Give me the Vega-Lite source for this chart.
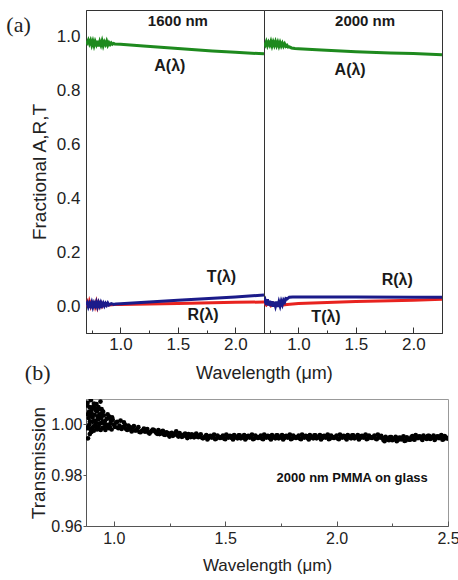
{
  "$schema": "https://vega.github.io/schema/vega-lite/v6.json",
  "background": "white",
  "padding": {"left": 6, "top": 9, "right": 0, "bottom": 4},
  "title": {"text": "(a)", "anchor": "start", "font": "Liberation Serif", "fontSize": 22, "fontWeight": "normal", "baseline": "alphabetic", "dx": -18, "dy": 27, "offset": -17, "color": "#222"},
  "config": {
    "font": "Liberation Sans",
    "view": {"stroke": "#333"},
    "axis": {"grid": false, "labelOverlap": false, "labelColor": "#222", "titleColor": "#222", "domainColor": "#333", "tickColor": "#333", "labelFont": "Liberation Sans", "titleFont": "Liberation Sans", "titleFontWeight": "normal"},
    "title": {"color": "#222", "fontWeight": "normal"}
  },
  "datasets": {
    "a1600": [
      {"s":"R","x":0.70,"y":0.000},{"s":"R","x":0.71,"y":0.012},{"s":"R","x":0.72,"y":-0.004},{"s":"R","x":0.73,"y":0.016},{"s":"R","x":0.74,"y":0.002},{"s":"R","x":0.75,"y":0.020},{"s":"R","x":0.76,"y":-0.002},{"s":"R","x":0.77,"y":0.018},{"s":"R","x":0.78,"y":0.000},{"s":"R","x":0.79,"y":0.015},{"s":"R","x":0.80,"y":-0.003},{"s":"R","x":0.81,"y":0.012},{"s":"R","x":0.82,"y":0.001},{"s":"R","x":0.83,"y":0.010},{"s":"R","x":0.84,"y":0.000},{"s":"R","x":0.85,"y":0.008},{"s":"R","x":0.86,"y":0.002},{"s":"R","x":0.88,"y":0.006},{"s":"R","x":0.90,"y":0.004},{"s":"R","x":0.95,"y":0.006},{"s":"R","x":1.00,"y":0.006},{"s":"R","x":1.50,"y":0.010},{"s":"R","x":2.00,"y":0.014},{"s":"R","x":2.25,"y":0.015},
      {"s":"T","x":0.70,"y":0.004},{"s":"T","x":0.71,"y":0.012},{"s":"T","x":0.72,"y":-0.002},{"s":"T","x":0.73,"y":0.010},{"s":"T","x":0.74,"y":0.000},{"s":"T","x":0.75,"y":0.013},{"s":"T","x":0.76,"y":-0.003},{"s":"T","x":0.77,"y":0.011},{"s":"T","x":0.78,"y":0.001},{"s":"T","x":0.79,"y":0.014},{"s":"T","x":0.80,"y":-0.002},{"s":"T","x":0.81,"y":0.012},{"s":"T","x":0.82,"y":0.000},{"s":"T","x":0.83,"y":0.013},{"s":"T","x":0.84,"y":0.002},{"s":"T","x":0.85,"y":0.011},{"s":"T","x":0.86,"y":0.001},{"s":"T","x":0.87,"y":0.010},{"s":"T","x":0.88,"y":0.003},{"s":"T","x":0.89,"y":0.011},{"s":"T","x":0.90,"y":0.004},{"s":"T","x":0.92,"y":0.009},{"s":"T","x":0.94,"y":0.006},{"s":"T","x":0.96,"y":0.008},{"s":"T","x":1.00,"y":0.009},{"s":"T","x":1.50,"y":0.022},{"s":"T","x":2.00,"y":0.034},{"s":"T","x":2.25,"y":0.041},
      {"s":"A","x":0.70,"y":0.985},{"s":"A","x":0.71,"y":0.978},{"s":"A","x":0.72,"y":0.988},{"s":"A","x":0.73,"y":0.975},{"s":"A","x":0.74,"y":0.986},{"s":"A","x":0.75,"y":0.970},{"s":"A","x":0.76,"y":0.984},{"s":"A","x":0.77,"y":0.968},{"s":"A","x":0.78,"y":0.983},{"s":"A","x":0.79,"y":0.972},{"s":"A","x":0.80,"y":0.986},{"s":"A","x":0.81,"y":0.965},{"s":"A","x":0.82,"y":0.982},{"s":"A","x":0.83,"y":0.970},{"s":"A","x":0.84,"y":0.985},{"s":"A","x":0.85,"y":0.968},{"s":"A","x":0.86,"y":0.981},{"s":"A","x":0.87,"y":0.972},{"s":"A","x":0.88,"y":0.984},{"s":"A","x":0.89,"y":0.970},{"s":"A","x":0.90,"y":0.979},{"s":"A","x":0.91,"y":0.972},{"s":"A","x":0.92,"y":0.978},{"s":"A","x":0.93,"y":0.973},{"s":"A","x":0.94,"y":0.976},{"s":"A","x":0.95,"y":0.974},{"s":"A","x":1.00,"y":0.973},{"s":"A","x":1.20,"y":0.966},{"s":"A","x":1.50,"y":0.957},{"s":"A","x":1.80,"y":0.948},{"s":"A","x":2.00,"y":0.943},{"s":"A","x":2.25,"y":0.937}
    ],
    "a2000": [
      {"s":"R","x":0.70,"y":0.012},{"s":"R","x":0.72,"y":0.004},{"s":"R","x":0.74,"y":0.014},{"s":"R","x":0.76,"y":0.002},{"s":"R","x":0.78,"y":0.011},{"s":"R","x":0.80,"y":0.001},{"s":"R","x":0.82,"y":0.009},{"s":"R","x":0.85,"y":0.003},{"s":"R","x":0.90,"y":0.006},{"s":"R","x":1.00,"y":0.010},{"s":"R","x":1.50,"y":0.017},{"s":"R","x":2.00,"y":0.022},{"s":"R","x":2.25,"y":0.025},
      {"s":"T","x":0.70,"y":0.012},{"s":"T","x":0.71,"y":0.022},{"s":"T","x":0.72,"y":0.004},{"s":"T","x":0.73,"y":0.025},{"s":"T","x":0.74,"y":0.002},{"s":"T","x":0.75,"y":0.020},{"s":"T","x":0.76,"y":0.000},{"s":"T","x":0.77,"y":0.018},{"s":"T","x":0.78,"y":-0.002},{"s":"T","x":0.79,"y":0.016},{"s":"T","x":0.80,"y":0.000},{"s":"T","x":0.81,"y":0.017},{"s":"T","x":0.82,"y":-0.003},{"s":"T","x":0.83,"y":0.015},{"s":"T","x":0.84,"y":0.001},{"s":"T","x":0.85,"y":0.018},{"s":"T","x":0.86,"y":0.006},{"s":"T","x":0.87,"y":0.022},{"s":"T","x":0.88,"y":0.015},{"s":"T","x":0.89,"y":0.028},{"s":"T","x":0.90,"y":0.026},{"s":"T","x":0.92,"y":0.033},{"s":"T","x":0.95,"y":0.034},{"s":"T","x":1.00,"y":0.034},{"s":"T","x":1.50,"y":0.034},{"s":"T","x":2.00,"y":0.033},{"s":"T","x":2.25,"y":0.033},
      {"s":"A","x":0.70,"y":0.978},{"s":"A","x":0.71,"y":0.970},{"s":"A","x":0.72,"y":0.982},{"s":"A","x":0.73,"y":0.968},{"s":"A","x":0.74,"y":0.980},{"s":"A","x":0.75,"y":0.970},{"s":"A","x":0.76,"y":0.983},{"s":"A","x":0.77,"y":0.967},{"s":"A","x":0.78,"y":0.981},{"s":"A","x":0.79,"y":0.969},{"s":"A","x":0.80,"y":0.982},{"s":"A","x":0.81,"y":0.968},{"s":"A","x":0.82,"y":0.980},{"s":"A","x":0.83,"y":0.966},{"s":"A","x":0.84,"y":0.979},{"s":"A","x":0.85,"y":0.967},{"s":"A","x":0.86,"y":0.977},{"s":"A","x":0.87,"y":0.966},{"s":"A","x":0.88,"y":0.974},{"s":"A","x":0.89,"y":0.965},{"s":"A","x":0.90,"y":0.969},{"s":"A","x":0.91,"y":0.962},{"s":"A","x":0.92,"y":0.963},{"s":"A","x":0.94,"y":0.959},{"s":"A","x":0.97,"y":0.957},{"s":"A","x":1.00,"y":0.956},{"s":"A","x":1.20,"y":0.951},{"s":"A","x":1.50,"y":0.945},{"s":"A","x":1.80,"y":0.940},{"s":"A","x":2.00,"y":0.938},{"s":"A","x":2.25,"y":0.934}
    ],
    "lab1600": [
      {"t":"1600 nm","x":1.50,"y":1.059,"k":"h"},
      {"t":"A(λ)","x":1.43,"y":0.891,"k":"l"},
      {"t":"T(λ)","x":1.88,"y":0.107,"k":"l"},
      {"t":"R(λ)","x":1.72,"y":-0.033,"k":"l"}
    ],
    "lab2000": [
      {"t":"2000 nm","x":1.58,"y":1.059,"k":"h"},
      {"t":"A(λ)","x":1.45,"y":0.878,"k":"l"},
      {"t":"R(λ)","x":1.86,"y":0.098,"k":"l"},
      {"t":"T(λ)","x":1.24,"y":-0.042,"k":"l"}
    ],
    "b": [
      {"x":0.88,"y":1.0075},{"x":0.89,"y":1.0000},{"x":0.90,"y":1.0045},{"x":0.91,"y":0.9975},{"x":0.92,"y":1.0055},{"x":0.93,"y":1.0020},{"x":0.94,"y":1.0090},
      {"x":0.885,"y":0.9990},{"x":0.895,"y":1.0035},{"x":0.905,"y":1.0010},{"x":0.915,"y":1.0065},{"x":0.925,"y":0.9980},{"x":0.935,"y":1.0040},{"x":0.945,"y":1.0060},
      {"x":0.882,"y":1.0085},{"x":0.887,"y":1.0025},{"x":0.892,"y":0.9962},{"x":0.897,"y":1.0095},{"x":0.902,"y":0.9985},{"x":0.907,"y":1.0070},{"x":0.912,"y":1.0015},{"x":0.917,"y":0.9995},{"x":0.922,"y":1.0080},{"x":0.927,"y":1.0030},{"x":0.932,"y":0.9990},{"x":0.937,"y":1.0060},{"x":0.942,"y":1.0005},{"x":0.947,"y":1.0045},{"x":0.884,"y":0.9945},{"x":0.889,"y":1.0050},{"x":0.894,"y":1.0105},{"x":0.899,"y":0.9970},
      {"x":0.881,"y":0.9985},{"x":0.883,"y":1.0040},{"x":0.886,"y":1.0110},{"x":0.891,"y":1.0068},{"x":0.893,"y":1.0012},{"x":0.896,"y":0.9978},{"x":0.901,"y":1.0058},{"x":0.904,"y":1.0028},{"x":0.909,"y":0.9992},{"x":0.911,"y":1.0082},{"x":0.914,"y":1.0038},{"x":0.919,"y":1.0008},{"x":0.921,"y":0.9982},{"x":0.924,"y":1.0052},{"x":0.929,"y":1.0022},{"x":0.931,"y":1.0068},{"x":0.934,"y":1.0002},{"x":0.939,"y":1.0034},{"x":0.941,"y":0.9978},{"x":0.944,"y":1.0025},{"x":0.949,"y":1.0010},
      {"x":0.95,"y":0.9986},{"x":0.96,"y":1.0013},{"x":0.97,"y":0.9998},{"x":0.98,"y":1.0031},{"x":0.99,"y":0.9980},{"x":0.955,"y":1.0035},{"x":0.965,"y":0.9992},{"x":0.975,"y":1.0025},{"x":0.985,"y":1.0005},{"x":0.995,"y":1.0018},{"x":0.952,"y":1.0050},{"x":0.962,"y":0.9978},{"x":0.972,"y":1.0040},{"x":0.982,"y":0.9990},{"x":0.992,"y":1.0028},{"x":0.958,"y":1.0002},{"x":0.968,"y":1.0022},{"x":0.978,"y":0.9985},{"x":0.988,"y":1.0015},
      {"x":1.00,"y":0.9999},{"x":1.01,"y":1.0007},{"x":1.02,"y":0.9985},{"x":1.03,"y":1.0015},{"x":1.04,"y":0.9989},{"x":1.005,"y":0.9990},{"x":1.015,"y":1.0010},{"x":1.025,"y":0.9995},{"x":1.035,"y":0.9982},{"x":1.045,"y":1.0008},
      {"x":1.05,"y":0.9998},{"x":1.06,"y":0.9978},{"x":1.07,"y":0.9990},{"x":1.08,"y":0.9972},{"x":1.09,"y":0.9993},{"x":1.055,"y":0.9982},{"x":1.065,"y":0.9995},{"x":1.075,"y":0.9980},{"x":1.085,"y":0.9988},{"x":1.095,"y":0.9976},
      {"x":1.10,"y":0.9976},{"x":1.11,"y":0.9989},{"x":1.12,"y":0.9969},{"x":1.13,"y":0.9977},{"x":1.14,"y":0.9971},{"x":1.15,"y":0.9982},{"x":1.16,"y":0.9964},{"x":1.17,"y":0.9975},{"x":1.18,"y":0.9978},{"x":1.19,"y":0.9967},{"x":1.105,"y":0.9982},{"x":1.115,"y":0.9970},{"x":1.125,"y":0.9974},{"x":1.135,"y":0.9983},{"x":1.145,"y":0.9979},{"x":1.155,"y":0.9968},{"x":1.165,"y":0.9970},{"x":1.175,"y":0.9980},{"x":1.185,"y":0.9972},{"x":1.195,"y":0.9963},
      {"x":1.20,"y":0.9978},{"x":1.21,"y":0.9964},{"x":1.22,"y":0.9975},{"x":1.23,"y":0.9959},{"x":1.24,"y":0.9967},{"x":1.25,"y":0.9952},{"x":1.26,"y":0.9967},{"x":1.27,"y":0.9959},{"x":1.28,"y":0.9973},{"x":1.29,"y":0.9952},
      {"x":1.205,"y":0.9962},{"x":1.215,"y":0.9972},{"x":1.225,"y":0.9960},{"x":1.235,"y":0.9969},{"x":1.245,"y":0.9958},{"x":1.255,"y":0.9965},{"x":1.265,"y":0.9955},{"x":1.275,"y":0.9963},{"x":1.285,"y":0.9957},{"x":1.295,"y":0.9966},
      {"x":1.30,"y":0.9959},{"x":1.31,"y":0.9953},{"x":1.32,"y":0.9964},{"x":1.33,"y":0.9946},{"x":1.34,"y":0.9958},{"x":1.35,"y":0.9961},{"x":1.36,"y":0.9949},{"x":1.37,"y":0.9964},{"x":1.38,"y":0.9950},{"x":1.39,"y":0.9961},
      {"x":1.305,"y":0.9951},{"x":1.315,"y":0.9960},{"x":1.325,"y":0.9954},{"x":1.335,"y":0.9962},{"x":1.345,"y":0.9950},{"x":1.355,"y":0.9957},{"x":1.365,"y":0.9959},{"x":1.375,"y":0.9951},{"x":1.385,"y":0.9957},{"x":1.395,"y":0.9948},
      {"x":1.40,"y":0.9945},{"x":1.41,"y":0.9952},{"x":1.42,"y":0.9941},{"x":1.43,"y":0.9954},{"x":1.44,"y":0.9948},{"x":1.45,"y":0.9960},{"x":1.46,"y":0.9944},{"x":1.47,"y":0.9951},{"x":1.48,"y":0.9947},{"x":1.49,"y":0.9956},
      {"x":1.50,"y":0.9942},{"x":1.51,"y":0.9952},{"x":1.52,"y":0.9955},{"x":1.53,"y":0.9946},{"x":1.54,"y":0.9958},{"x":1.55,"y":0.9948},{"x":1.56,"y":0.9957},{"x":1.57,"y":0.9945},{"x":1.58,"y":0.9952},{"x":1.59,"y":0.9941},
      {"x":1.60,"y":0.9954},{"x":1.61,"y":0.9948},{"x":1.62,"y":0.9960},{"x":1.63,"y":0.9944},{"x":1.64,"y":0.9951},{"x":1.65,"y":0.9947},{"x":1.66,"y":0.9956},{"x":1.67,"y":0.9942},{"x":1.68,"y":0.9952},{"x":1.69,"y":0.9955},
      {"x":1.70,"y":0.9946},{"x":1.71,"y":0.9958},{"x":1.72,"y":0.9948},{"x":1.73,"y":0.9957},{"x":1.74,"y":0.9945},{"x":1.75,"y":0.9952},{"x":1.76,"y":0.9941},{"x":1.77,"y":0.9954},{"x":1.78,"y":0.9948},{"x":1.79,"y":0.9960},
      {"x":1.80,"y":0.9944},{"x":1.81,"y":0.9951},{"x":1.82,"y":0.9947},{"x":1.83,"y":0.9956},{"x":1.84,"y":0.9942},{"x":1.85,"y":0.9952},{"x":1.86,"y":0.9955},{"x":1.87,"y":0.9946},{"x":1.88,"y":0.9958},{"x":1.89,"y":0.9948},
      {"x":1.90,"y":0.9957},{"x":1.91,"y":0.9945},{"x":1.92,"y":0.9952},{"x":1.93,"y":0.9941},{"x":1.94,"y":0.9954},{"x":1.95,"y":0.9948},{"x":1.96,"y":0.9960},{"x":1.97,"y":0.9944},{"x":1.98,"y":0.9951},{"x":1.99,"y":0.9947},
      {"x":2.00,"y":0.9956},{"x":2.01,"y":0.9942},{"x":2.02,"y":0.9952},{"x":2.03,"y":0.9955},{"x":2.04,"y":0.9946},{"x":2.05,"y":0.9958},{"x":2.06,"y":0.9948},{"x":2.07,"y":0.9957},{"x":2.08,"y":0.9945},{"x":2.09,"y":0.9952},
      {"x":2.10,"y":0.9941},{"x":2.11,"y":0.9954},{"x":2.12,"y":0.9948},{"x":2.13,"y":0.9960},{"x":2.14,"y":0.9944},{"x":2.15,"y":0.9951},{"x":2.16,"y":0.9947},{"x":2.17,"y":0.9956},{"x":2.18,"y":0.9942},{"x":2.19,"y":0.9952},{"x":2.20,"y":0.9955},
      {"x":2.21,"y":0.9939},{"x":2.22,"y":0.9951},{"x":2.23,"y":0.9941},{"x":2.24,"y":0.9950},{"x":2.25,"y":0.9938},{"x":2.26,"y":0.9945},{"x":2.27,"y":0.9934},{"x":2.28,"y":0.9947},{"x":2.29,"y":0.9941},{"x":2.30,"y":0.9953},{"x":2.31,"y":0.9937},{"x":2.32,"y":0.9944},{"x":2.33,"y":0.9940},
      {"x":2.34,"y":0.9954},{"x":2.35,"y":0.9940},{"x":2.36,"y":0.9950},{"x":2.37,"y":0.9953},{"x":2.38,"y":0.9944},{"x":2.39,"y":0.9956},{"x":2.40,"y":0.9946},{"x":2.41,"y":0.9955},{"x":2.42,"y":0.9943},{"x":2.43,"y":0.9950},{"x":2.44,"y":0.9939},{"x":2.45,"y":0.9952},{"x":2.46,"y":0.9946},{"x":2.47,"y":0.9958},{"x":2.48,"y":0.9942},{"x":2.49,"y":0.9949},{"x":2.50,"y":0.9945},
      {"x":1.405,"y":0.9948},{"x":1.415,"y":0.9958},{"x":1.425,"y":0.9946},{"x":1.435,"y":0.9955},{"x":1.445,"y":0.9952},{"x":1.455,"y":0.9942},{"x":1.465,"y":0.9956},{"x":1.475,"y":0.9947},{"x":1.485,"y":0.9951},{"x":1.495,"y":0.9944},
      {"x":1.505,"y":0.9960},{"x":1.515,"y":0.9948},{"x":1.525,"y":0.9954},{"x":1.535,"y":0.9941},{"x":1.545,"y":0.9952},{"x":1.555,"y":0.9945},{"x":1.565,"y":0.9957},{"x":1.575,"y":0.9948},{"x":1.585,"y":0.9958},{"x":1.595,"y":0.9946},
      {"x":1.605,"y":0.9955},{"x":1.615,"y":0.9952},{"x":1.625,"y":0.9942},{"x":1.635,"y":0.9956},{"x":1.645,"y":0.9947},{"x":1.655,"y":0.9951},{"x":1.665,"y":0.9944},{"x":1.675,"y":0.9960},{"x":1.685,"y":0.9948},{"x":1.695,"y":0.9954},
      {"x":1.705,"y":0.9941},{"x":1.715,"y":0.9952},{"x":1.725,"y":0.9945},{"x":1.735,"y":0.9957},{"x":1.745,"y":0.9948},{"x":1.755,"y":0.9958},{"x":1.765,"y":0.9946},{"x":1.775,"y":0.9955},{"x":1.785,"y":0.9952},{"x":1.795,"y":0.9942},
      {"x":1.805,"y":0.9956},{"x":1.815,"y":0.9947},{"x":1.825,"y":0.9951},{"x":1.835,"y":0.9944},{"x":1.845,"y":0.9960},{"x":1.855,"y":0.9948},{"x":1.865,"y":0.9954},{"x":1.875,"y":0.9941},{"x":1.885,"y":0.9952},{"x":1.895,"y":0.9945},
      {"x":1.905,"y":0.9957},{"x":1.915,"y":0.9948},{"x":1.925,"y":0.9958},{"x":1.935,"y":0.9946},{"x":1.945,"y":0.9955},{"x":1.955,"y":0.9952},{"x":1.965,"y":0.9942},{"x":1.975,"y":0.9956},{"x":1.985,"y":0.9947},{"x":1.995,"y":0.9951},
      {"x":2.005,"y":0.9944},{"x":2.015,"y":0.9960},{"x":2.025,"y":0.9948},{"x":2.035,"y":0.9954},{"x":2.045,"y":0.9941},{"x":2.055,"y":0.9952},{"x":2.065,"y":0.9945},{"x":2.075,"y":0.9957},{"x":2.085,"y":0.9948},{"x":2.095,"y":0.9958},
      {"x":2.105,"y":0.9946},{"x":2.115,"y":0.9955},{"x":2.125,"y":0.9952},{"x":2.135,"y":0.9942},{"x":2.145,"y":0.9956},{"x":2.155,"y":0.9947},{"x":2.165,"y":0.9951},{"x":2.175,"y":0.9944},{"x":2.185,"y":0.9960},{"x":2.195,"y":0.9948},
      {"x":2.205,"y":0.9947},{"x":2.215,"y":0.9934},{"x":2.225,"y":0.9945},{"x":2.235,"y":0.9938},{"x":2.245,"y":0.9950},{"x":2.255,"y":0.9941},{"x":2.265,"y":0.9951},{"x":2.275,"y":0.9939},{"x":2.285,"y":0.9948},{"x":2.295,"y":0.9945},
      {"x":2.305,"y":0.9935},{"x":2.315,"y":0.9949},{"x":2.325,"y":0.9940},{"x":2.335,"y":0.9949},{"x":2.345,"y":0.9942},{"x":2.355,"y":0.9958},{"x":2.365,"y":0.9946},{"x":2.375,"y":0.9952},{"x":2.385,"y":0.9939},{"x":2.395,"y":0.9950},
      {"x":2.405,"y":0.9943},{"x":2.415,"y":0.9955},{"x":2.425,"y":0.9946},{"x":2.435,"y":0.9956},{"x":2.445,"y":0.9944},{"x":2.455,"y":0.9953},{"x":2.465,"y":0.9950},{"x":2.475,"y":0.9940},{"x":2.485,"y":0.9954},{"x":2.495,"y":0.9945}
    ],
    "blab": [{"t":"2000 nm PMMA on glass","x":2.07,"y":0.979}]
  },
  "spacing": -22,
  "vconcat": [
    {
      "spacing": 0,
      "bounds": "flush",
      "title": {"text": "Wavelength (μm)", "orient": "bottom", "anchor": "middle", "frame": "bounds", "dx": 28, "font": "Liberation Sans", "fontSize": 18, "fontWeight": "normal", "offset": 9, "color": "#222"},
      "hconcat": [
        {
          "width": 178, "height": 323,
          "view": {"stroke": "#333"},
          "encoding": {
            "x": {"field": "x", "type": "quantitative", "scale": {"domain": [0.7, 2.25], "nice": false, "zero": false},
                  "axis": {"values": [0.75, 1.0, 1.25, 1.5, 1.75, 2.0, 2.25], "labelExpr": "round(datum.value*4) % 2 == 1 ? '' : format(datum.value, '.1f')", "labelOverlap": false, "title": "", "tickSize": {"condition": {"test": "round(datum.value*4) % 2 == 1", "value": -3}, "value": -6}, "labelPadding": 9, "labelFontSize": 17, "labelFlush": false, "titlePadding": 0}},
            "y": {"field": "y", "type": "quantitative", "scale": {"domain": [-0.1, 1.1], "nice": false, "zero": false},
                  "axis": {"values": [0, 0.2, 0.4, 0.6, 0.8, 1.0], "format": ".1f", "ticks": false, "labelOverlap": false, "labelPadding": 6, "labelFontSize": 17, "title": "Fractional A,R,T", "titleFontSize": 19, "titlePadding": 7}}
          },
          "layer": [
            {
              "data": {"name": "a1600"},
              "mark": {"type": "line", "strokeWidth": 3, "clip": true},
              "encoding": {
                "color": {"field": "s", "type": "nominal", "scale": {"domain": ["R", "T", "A"], "range": ["#e8231f", "#1b1b8a", "#1e8a1e"]}, "legend": null}
              }
            },
            {
              "data": {"name": "lab1600"},
              "mark": {"type": "text", "fontWeight": "bold", "font": "Liberation Sans", "color": "#1a1a1a"},
              "encoding": {
                "text": {"field": "t"},
                "size": {"field": "k", "type": "nominal", "scale": {"domain": ["h", "l"], "range": [15, 16]}, "legend": null}
              }
            }
          ]
        },
        {
          "width": 178, "height": 323,
          "view": {"stroke": "#333"},
          "encoding": {
            "x": {"field": "x", "type": "quantitative", "scale": {"domain": [0.7, 2.25], "nice": false, "zero": false},
                  "axis": {"values": [0.75, 1.0, 1.25, 1.5, 1.75, 2.0, 2.25], "labelExpr": "round(datum.value*4) % 2 == 1 ? '' : format(datum.value, '.1f')", "labelOverlap": false, "title": "", "tickSize": {"condition": {"test": "round(datum.value*4) % 2 == 1", "value": -3}, "value": -6}, "labelPadding": 9, "labelFontSize": 17, "labelFlush": false, "titlePadding": 0}},
            "y": {"field": "y", "type": "quantitative", "scale": {"domain": [-0.1, 1.1], "nice": false, "zero": false}, "axis": null}
          },
          "layer": [
            {
              "data": {"name": "a2000"},
              "mark": {"type": "line", "strokeWidth": 3, "clip": true},
              "encoding": {
                "color": {"field": "s", "type": "nominal", "scale": {"domain": ["R", "T", "A"], "range": ["#e8231f", "#1b1b8a", "#1e8a1e"]}, "legend": null}
              }
            },
            {
              "data": {"name": "lab2000"},
              "mark": {"type": "text", "fontWeight": "bold", "font": "Liberation Sans", "color": "#1a1a1a"},
              "encoding": {
                "text": {"field": "t"},
                "size": {"field": "k", "type": "nominal", "scale": {"domain": ["h", "l"], "range": [15, 16]}, "legend": null}
              }
            }
          ]
        }
      ]
    },
    {
      "width": 362, "height": 127,
      "view": {"stroke": "#999"},
      "title": {"text": "(b)", "anchor": "start", "font": "Liberation Serif", "fontSize": 22, "fontWeight": "normal", "baseline": "alphabetic", "offset": -3, "dx": -5, "color": "#222"},
      "layer": [
        {
          "data": {"name": "b"},
          "mark": {"type": "point", "filled": true, "size": 22, "color": "black", "opacity": 1, "clip": true},
          "encoding": {
            "x": {"field": "x", "type": "quantitative", "scale": {"domain": [0.875, 2.5], "nice": false, "zero": false},
                  "axis": {"values": [1.0, 1.25, 1.5, 1.75, 2.0, 2.25, 2.5], "labelExpr": "round(datum.value*4) % 2 == 1 ? '' : format(datum.value, '.1f')", "labelOverlap": false, "tickSize": {"condition": {"test": "round(datum.value*4) % 2 == 1", "value": -3}, "value": -5}, "labelPadding": 9, "labelFontSize": 16, "labelFlush": false, "title": "Wavelength (μm)", "titleFontSize": 17, "titlePadding": 9, "domainColor": "#555", "tickColor": "#555"}},
            "y": {"field": "y", "type": "quantitative", "scale": {"domain": [0.96, 1.01], "nice": false, "zero": false},
                  "axis": {"values": [0.96, 0.97, 0.98, 0.99, 1.0], "labelExpr": "round(datum.value*100) % 2 == 1 ? '' : format(datum.value, '.2f')", "labelOverlap": false, "tickSize": {"condition": {"test": "round(datum.value*100) % 2 == 1", "value": 2}, "value": 3}, "labelPadding": 1, "labelFontSize": 16, "title": "Transmission", "titleFontSize": 19, "titlePadding": 2, "domainColor": "#555", "tickColor": "#555"}}
          }
        },
        {
          "mark": {"type": "rule", "color": "#e8231f", "strokeWidth": 2.5},
          "encoding": {"y": {"datum": 1.0}}
        },
        {
          "data": {"name": "blab"},
          "mark": {"type": "text", "fontWeight": "bold", "fontSize": 13, "font": "Liberation Sans", "color": "#111"},
          "encoding": {
            "x": {"field": "x", "type": "quantitative"},
            "y": {"field": "y", "type": "quantitative"},
            "text": {"field": "t"}
          }
        }
      ]
    }
  ]
}
